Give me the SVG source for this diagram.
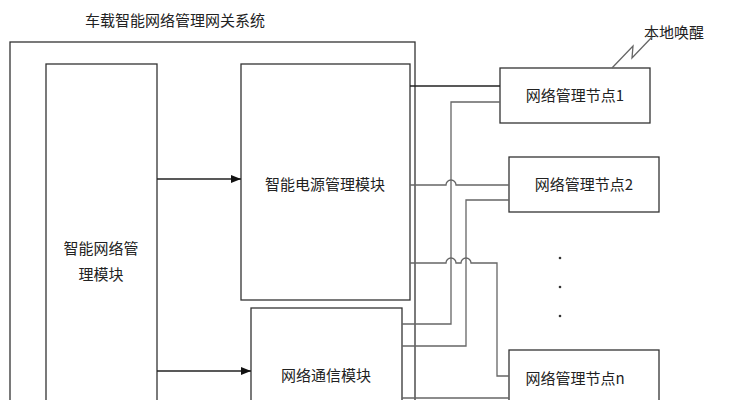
<svg xmlns="http://www.w3.org/2000/svg" width="742" height="400" viewBox="0 0 742 400">
<defs>
<style>
.b{fill:#fff;stroke:#333;stroke-width:1.3}
text{font-family:"Noto Sans CJK SC","Liberation Sans",sans-serif;font-size:15px;fill:#222}
.k{fill:none;stroke:#222;stroke-width:1.3}
.g{fill:none;stroke:#666;stroke-width:1.3}
</style>
<marker id="a" viewBox="0 0 10 10" refX="10" refY="5" markerWidth="8" markerHeight="8" orient="auto"><path d="M0,1L10,5L0,9z" fill="#111"/></marker>
</defs>
<rect width="742" height="400" fill="#fff"/>
<text x="85" y="26">车载智能网络管理网关系统</text>
<rect class="b" x="10" y="42" width="405" height="380"/>
<g id="nm"><rect class="b" x="46" y="64" width="111" height="360"/><text x="101" y="254" text-anchor="middle">智能网络管</text><text x="101" y="280" text-anchor="middle">理模块</text></g>
<g id="pm"><rect class="b" x="241" y="64" width="169" height="236"/><text x="325" y="190" text-anchor="middle">智能电源管理模块</text></g>
<g id="cm"><rect class="b" x="251" y="308" width="151" height="110"/><text x="326" y="381" text-anchor="middle">网络通信模块</text></g>
<g id="n1"><rect class="b" x="500" y="68" width="150" height="55"/><text x="575" y="101" text-anchor="middle">网络管理节点1</text></g>
<g id="n2"><rect class="b" x="509" y="157" width="150" height="55"/><text x="584" y="190" text-anchor="middle">网络管理节点2</text></g>
<g id="nn"><rect class="b" x="509" y="350" width="150" height="70"/><text x="575" y="384" text-anchor="middle">网络管理节点n</text></g>
<g id="wake"><text x="644" y="38">本地唤醒</text><polyline class="g" points="612,68 633,46 632,58 652,37"/></g>
<g id="dots" fill="#333"><circle cx="560" cy="258" r="1.3"/><circle cx="560" cy="287" r="1.3"/><circle cx="560" cy="316" r="1.3"/></g>
<g id="connectors">
<line class="k" x1="157" y1="179" x2="241" y2="179" marker-end="url(#a)"/>
<line class="k" x1="157" y1="371" x2="251" y2="371" marker-end="url(#a)"/>
<path class="k" d="M410,86H500"/>
<path class="g" d="M410,185H446a5,5 0 0 1 10,0H509"/>
<path class="g" d="M410,263H446a5,5 0 0 1 10,0H461a5,5 0 0 1 10,0H497V376H509"/>
<path class="g" d="M402,324H451V102H500"/>
<path class="g" d="M402,346H466V200H509"/>
<path class="g" d="M402,398H509"/>
</g>
</svg>
